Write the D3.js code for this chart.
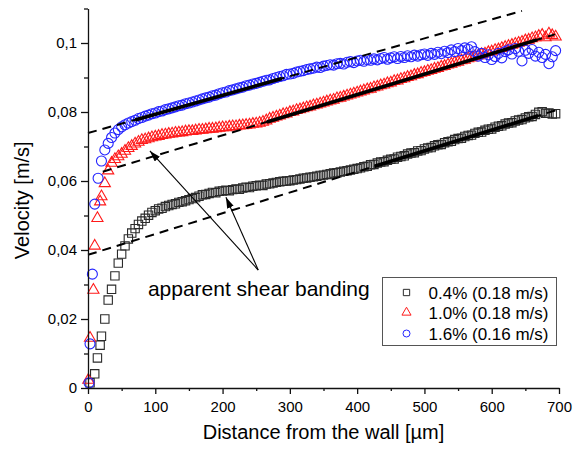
<!DOCTYPE html>
<html><head><meta charset="utf-8">
<script src="https://cdn.jsdelivr.net/npm/d3@7"></script>
<style>
body{margin:0;background:#fff}
svg{display:block}
text{font-family:"Liberation Sans",Arial,sans-serif;fill:#000}
</style>
</head><body>
<svg id="c" width="583" height="451"></svg>
<script>
// ---------- data ----------
// regular measurement grid (µm) from 20 µm onward
const distance = d3.range(20, 700, 5);

// near-wall points (µm, m/s)
const blackWallX = [3, 10, 14, 18];
const blackWallV = [0.0015, 0.0041, 0.0087, 0.0124];
const redWallX = [0.5, 3, 8, 10, 14, 18];
const redWallV = [0.0023, 0.0145, 0.0284, 0.0412, 0.0492, 0.0540];
const blueWallX = [1.5, 3, 6.5, 10, 15];
const blueWallV = [0.0015, 0.0128, 0.0330, 0.0533, 0.0608];

// 0.4% (0.18 m/s)
const black04 = [
 .0150,.0200,.0255,.0286,.0325,.0362,.0388,.0412,.0432,.0449,
 .0462,.0474,.0484,.0492,.0501,.0509,.0514,.0519,.0521,.0526,
 .0529,.0532,.0534,.0538,.0540,.0543,.0546,.0549,.0552,.0556,
 .0560,.0561,.0564,.0567,.0566,.0570,.0571,.0573,.0572,.0575,
 .0577,.0576,.0580,.0582,.0581,.0585,.0586,.0588,.0587,.0591,
 .0592,.0594,.0596,.0598,.0599,.0600,.0601,.0603,.0604,.0606,
 .0608,.0609,.0611,.0612,.0614,.0616,.0617,.0619,.0621,.0623,
 .0624,.0626,.0628,.0630,.0632,.0634,.0636,.0638,.0641,.0643,
 .0647,.0648,.0652,.0655,.0656,.0660,.0663,.0664,.0669,.0671,
 .0673,.0678,.0681,.0682,.0687,.0688,.0693,.0696,.0697,.0702,
 .0705,.0706,.0711,.0714,.0715,.0720,.0723,.0724,.0729,.0732,
 .0733,.0738,.0741,.0742,.0747,.0750,.0751,.0756,.0759,.0760,
 .0765,.0768,.0769,.0774,.0777,.0778,.0783,.0786,.0787,.0793,
 .0799,.0801,.0796,.0797,.0794,.0795
];
// 1.0% (0.18 m/s)
const red10 = [
 .0555,.0593,.0630,.0652,.0663,.0671,.0678,.0687,.0695,.0701,
 .0708,.0713,.0718,.0720,.0723,.0726,.0728,.0730,.0733,.0734,
 .0736,.0737,.0739,.0740,.0741,.0743,.0744,.0744,.0746,.0748,
 .0748,.0749,.0751,.0751,.0752,.0754,.0755,.0755,.0757,.0758,
 .0758,.0760,.0761,.0762,.0763,.0765,.0766,.0768,.0771,.0775,
 .0780,.0783,.0786,.0789,.0793,.0795,.0799,.0801,.0805,.0807,
 .0810,.0813,.0815,.0819,.0821,.0824,.0827,.0830,.0833,.0835,
 .0839,.0841,.0844,.0847,.0850,.0853,.0856,.0859,.0862,.0865,
 .0867,.0871,.0873,.0877,.0879,.0883,.0885,.0889,.0891,.0895,
 .0897,.0901,.0903,.0907,.0909,.0913,.0915,.0919,.0921,.0925,
 .0927,.0931,.0933,.0937,.0939,.0943,.0945,.0949,.0951,.0955,
 .0957,.0961,.0963,.0967,.0969,.0973,.0975,.0979,.0981,.0985,
 .0988,.0991,.0994,.0997,.1000,.1003,.1007,.1009,.1013,.1016,
 .1020,.1023,.1016,.1027,.1022,.1018
];
// 1.6% (0.16 m/s)
const blue16 = [
 .0658,.0690,.0709,.0726,.0739,.0749,.0757,.0763,.0768,.0772,
 .0776,.0781,.0784,.0788,.0791,.0795,.0797,.0801,.0803,.0807,
 .0809,.0812,.0815,.0818,.0820,.0824,.0826,.0829,.0832,.0835,
 .0838,.0841,.0843,.0847,.0849,.0853,.0856,.0858,.0862,.0864,
 .0867,.0870,.0872,.0876,.0878,.0881,.0883,.0886,.0889,.0892,
 .0893,.0897,.0900,.0903,.0905,.0909,.0910,.0912,.0916,.0918,
 .0920,.0923,.0925,.0927,.0930,.0929,.0933,.0935,.0937,.0936,
 .0940,.0941,.0939,.0944,.0946,.0943,.0948,.0950,.0947,.0952,
 .0950,.0954,.0951,.0955,.0958,.0953,.0957,.0960,.0955,.0961,
 .0958,.0963,.0960,.0965,.0962,.0966,.0968,.0964,.0970,.0967,
 .0973,.0969,.0976,.0972,.0980,.0975,.0984,.0978,.0986,.0982,
 .0989,.0975,.0962,.0970,.0958,.0966,.0952,.0961,.0970,.0957,
 .0975,.0980,.0968,.0984,.0976,.0948,.0979,.0970,.0981,.0962,
 .0973,.0958,.0967,.0940,.0960,.0978
];

const seriesNames = ["0.4% (0.18 m/s)", "1.0% (0.18 m/s)", "1.6% (0.16 m/s)"];

// fitted lines: [distance, velocity] end points
const dashUpper = [[0, 0.0739], [645, 0.1093]];
const solidUpper = [[70, 0.0777], [288, 0.0897]];
const dashMiddle = [[22, 0.0627], [694, 0.1025]];
const solidMiddle = [[266, 0.0771], [667, 0.1009]];
const dashLower = [[0, 0.0386], [697, 0.0806]];
const solidLower = [[426, 0.0643], [669, 0.0789]];

// annotation
const annotationText = "apparent shear banding";
const annotationAt = [89, 0.0267];
const arrowTail = [253, 0.0342];
const arrowHeads = [[92, 0.0687], [205, 0.0553]];

// axes
const xMajor = [0, 100, 200, 300, 400, 500, 600, 700];
const xMinor = [50, 150, 250, 350, 450, 550, 650];
const yMajor = [0, 0.02, 0.04, 0.06, 0.08, 0.1];
const yMajorLabels = ["0", "0,02", "0,04", "0,06", "0,08", "0,1"];
const yMinor = [0.01, 0.03, 0.05, 0.07, 0.09, 0.11];
const xTitle = "Distance from the wall [\u00b5m]";
const yTitle = "Velocity [m/s]";

// ---------- drawing ----------
const svg = d3.select("#c");
const x = d3.scaleLinear().domain([0, 700]).range([88, 559]);
const y = d3.scaleLinear().domain([0, 0.11]).range([388, 8.5]);

const colBlack = "#2a2a2a", colRed = "#ff1a1a", colBlue = "#2424ff";

const defs = svg.append("defs");
defs.append("marker").attr("id", "ah")
  .attr("markerUnits", "userSpaceOnUse")
  .attr("markerWidth", 12).attr("markerHeight", 8)
  .attr("refX", 11).attr("refY", 3.5).attr("orient", "auto")
  .append("path").attr("d", "M0,0 L11,3.5 L0,7 Z").attr("fill", "#000");

const plot = svg.append("g");

function pts(xs, vs) { return xs.map((d, i) => [d, vs[i]]); }
const blackPts = pts(blackWallX, blackWallV).concat(pts(distance, black04));
const redPts = pts(redWallX, redWallV).concat(pts(distance, red10));
const bluePts = pts(blueWallX, blueWallV).concat(pts(distance, blue16));

const sq = d3.symbol().type(d3.symbolSquare).size(70);
const tri = d3.symbol().type(d3.symbolTriangle).size(54);

plot.append("g").selectAll("path").data(blackPts).join("path")
  .attr("d", sq).attr("transform", d => `translate(${x(d[0])},${y(d[1])})`)
  .attr("fill", "none").attr("stroke", colBlack).attr("stroke-width", 1.1);

plot.append("g").selectAll("path").data(redPts).join("path")
  .attr("d", tri).attr("transform", d => `translate(${x(d[0])},${y(d[1])})`)
  .attr("fill", "none").attr("stroke", colRed).attr("stroke-width", 1.1);

plot.append("g").selectAll("circle").data(bluePts).join("circle")
  .attr("cx", d => x(d[0])).attr("cy", d => y(d[1])).attr("r", 5)
  .attr("fill", "none").attr("stroke", colBlue).attr("stroke-width", 1.1);

const line = d3.line().x(d => x(d[0])).y(d => y(d[1]));
[dashUpper, dashMiddle, dashLower].forEach(l => {
  plot.append("path").attr("d", line(l)).attr("fill", "none")
    .attr("stroke", "#000").attr("stroke-width", 2).attr("stroke-dasharray", "9,6");
});
[solidUpper, solidMiddle, solidLower].forEach(l => {
  plot.append("path").attr("d", line(l)).attr("fill", "none")
    .attr("stroke", "#000").attr("stroke-width", 3.6);
});

// arrows
arrowHeads.forEach(h => {
  plot.append("line")
    .attr("x1", x(arrowTail[0])).attr("y1", y(arrowTail[1]))
    .attr("x2", x(h[0])).attr("y2", y(h[1]))
    .attr("stroke", "#000").attr("stroke-width", 1.1).attr("marker-end", "url(#ah)");
});
plot.append("text").attr("x", x(annotationAt[0])).attr("y", y(annotationAt[1]))
  .attr("font-size", 21).text(annotationText);

// axes
const gx = svg.append("g").attr("transform", `translate(0,${y(0)})`);
gx.call(d3.axisBottom(x).tickValues(xMajor).tickFormat(d3.format("d"))
  .tickSize(6).tickSizeOuter(0).tickPadding(7));
svg.append("g").attr("transform", `translate(0,${y(0)})`)
  .call(d3.axisBottom(x).tickValues(xMinor).tickFormat("").tickSize(3).tickSizeOuter(0))
  .select(".domain").remove();
const gy = svg.append("g").attr("transform", `translate(${x(0)},0)`);
gy.call(d3.axisLeft(y).tickValues(yMajor).tickFormat((d, i) => yMajorLabels[i])
  .tickSize(7).tickSizeOuter(0).tickPadding(4));
svg.append("g").attr("transform", `translate(${x(0)},0)`)
  .call(d3.axisLeft(y).tickValues(yMinor).tickFormat("").tickSize(4).tickSizeOuter(0))
  .select(".domain").remove();
svg.selectAll(".domain, .tick line").attr("stroke", "#111").attr("stroke-width", 1.3);
svg.selectAll(".tick text").attr("font-size", 15)
  .attr("font-family", '"Liberation Sans",Arial,sans-serif').attr("fill", "#000");

svg.append("text").attr("x", (x(0) + x(700)) / 2).attr("y", 439)
  .attr("text-anchor", "middle").attr("font-size", 20).text(xTitle);
svg.append("text").attr("transform", `translate(28.5,${(y(0) + y(0.11)) / 2 + 2}) rotate(-90)`)
  .attr("text-anchor", "middle").attr("font-size", 20).text(yTitle);

// legend
const lg = svg.append("g").attr("transform", "translate(382.5,277.5)");
lg.append("rect").attr("width", 174).attr("height", 68)
  .attr("fill", "#fff").attr("stroke", "#555").attr("stroke-width", 1);
const rowsY = [15, 35, 56];
const legSym = [
  g => g.append("path").attr("d", d3.symbol().type(d3.symbolSquare).size(40)()).attr("stroke", colBlack),
  g => g.append("path").attr("d", d3.symbol().type(d3.symbolTriangle).size(36)()).attr("stroke", colRed),
  g => g.append("circle").attr("r", 3.5).attr("stroke", colBlue)
];
seriesNames.forEach((name, i) => {
  const r = lg.append("g").attr("transform", `translate(0,${rowsY[i]})`);
  const s = r.append("g").attr("transform", "translate(24,0)");
  legSym[i](s).attr("fill", "none").attr("stroke-width", 1);
  r.append("text").attr("x", 46).attr("dy", "0.36em").attr("font-size", 17).text(name);
});
</script>
</body></html>
